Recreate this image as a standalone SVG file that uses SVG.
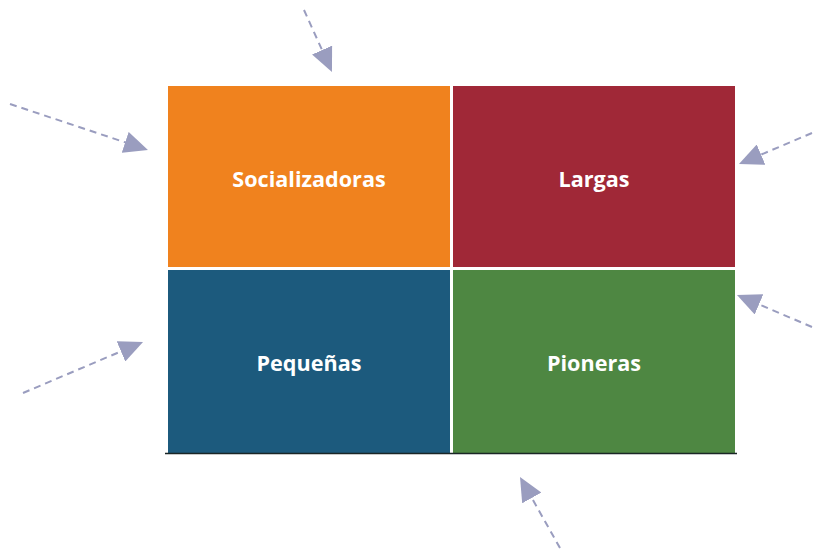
<svg xmlns="http://www.w3.org/2000/svg" width="816" height="550" viewBox="0 0 816 550">
<style>
.lbl{font-family:"Open Sans","Liberation Sans",sans-serif;font-weight:bold;font-size:21.6px;fill:#ffffff;text-anchor:middle;dominant-baseline:central}
.arr{stroke:#9A9DBF;stroke-width:2;stroke-dasharray:7,5;fill:none;marker-end:url(#head)}
</style>
<defs>
<marker id="head" markerUnits="userSpaceOnUse" markerWidth="24" markerHeight="22" viewBox="0 0 24 22" refX="2" refY="11" orient="auto">
<path d="M0,0 L24,11 L0,22 z" fill="#9A9DBF"/>
</marker>
</defs>
<rect width="816" height="550" fill="#ffffff"/>
<g id="socializadoras"><rect x="168" y="86" width="282" height="181" fill="#F0821E"/><text class="lbl" x="309" y="178">Socializadoras</text></g>
<g id="largas"><rect x="453" y="86" width="282" height="181" fill="#A02837"/><text class="lbl" x="594" y="178">Largas</text></g>
<g id="pequenas"><rect x="168" y="270" width="282" height="183" fill="#1C5A7D"/><text class="lbl" x="309" y="362">Pequeñas</text></g>
<g id="pioneras"><rect x="453" y="270" width="282" height="183" fill="#4E8742"/><text class="lbl" x="594" y="362">Pioneras</text></g>
<line x1="165" y1="453.5" x2="737" y2="453.5" stroke="#1a2626" stroke-width="1.5"/>
<g id="connectors">
<line class="arr" x1="304" y1="10" x2="322.9" y2="51.9"/>
<line class="arr" x1="10" y1="104" x2="127.1" y2="143"/>
<line class="arr" x1="812" y1="133" x2="759.2" y2="155.4"/>
<line class="arr" x1="812" y1="327" x2="757.2" y2="303.6"/>
<line class="arr" x1="23" y1="393" x2="122.8" y2="350.6"/>
<line class="arr" x1="560" y1="548" x2="530.8" y2="496.2"/>
</g>
</svg>
